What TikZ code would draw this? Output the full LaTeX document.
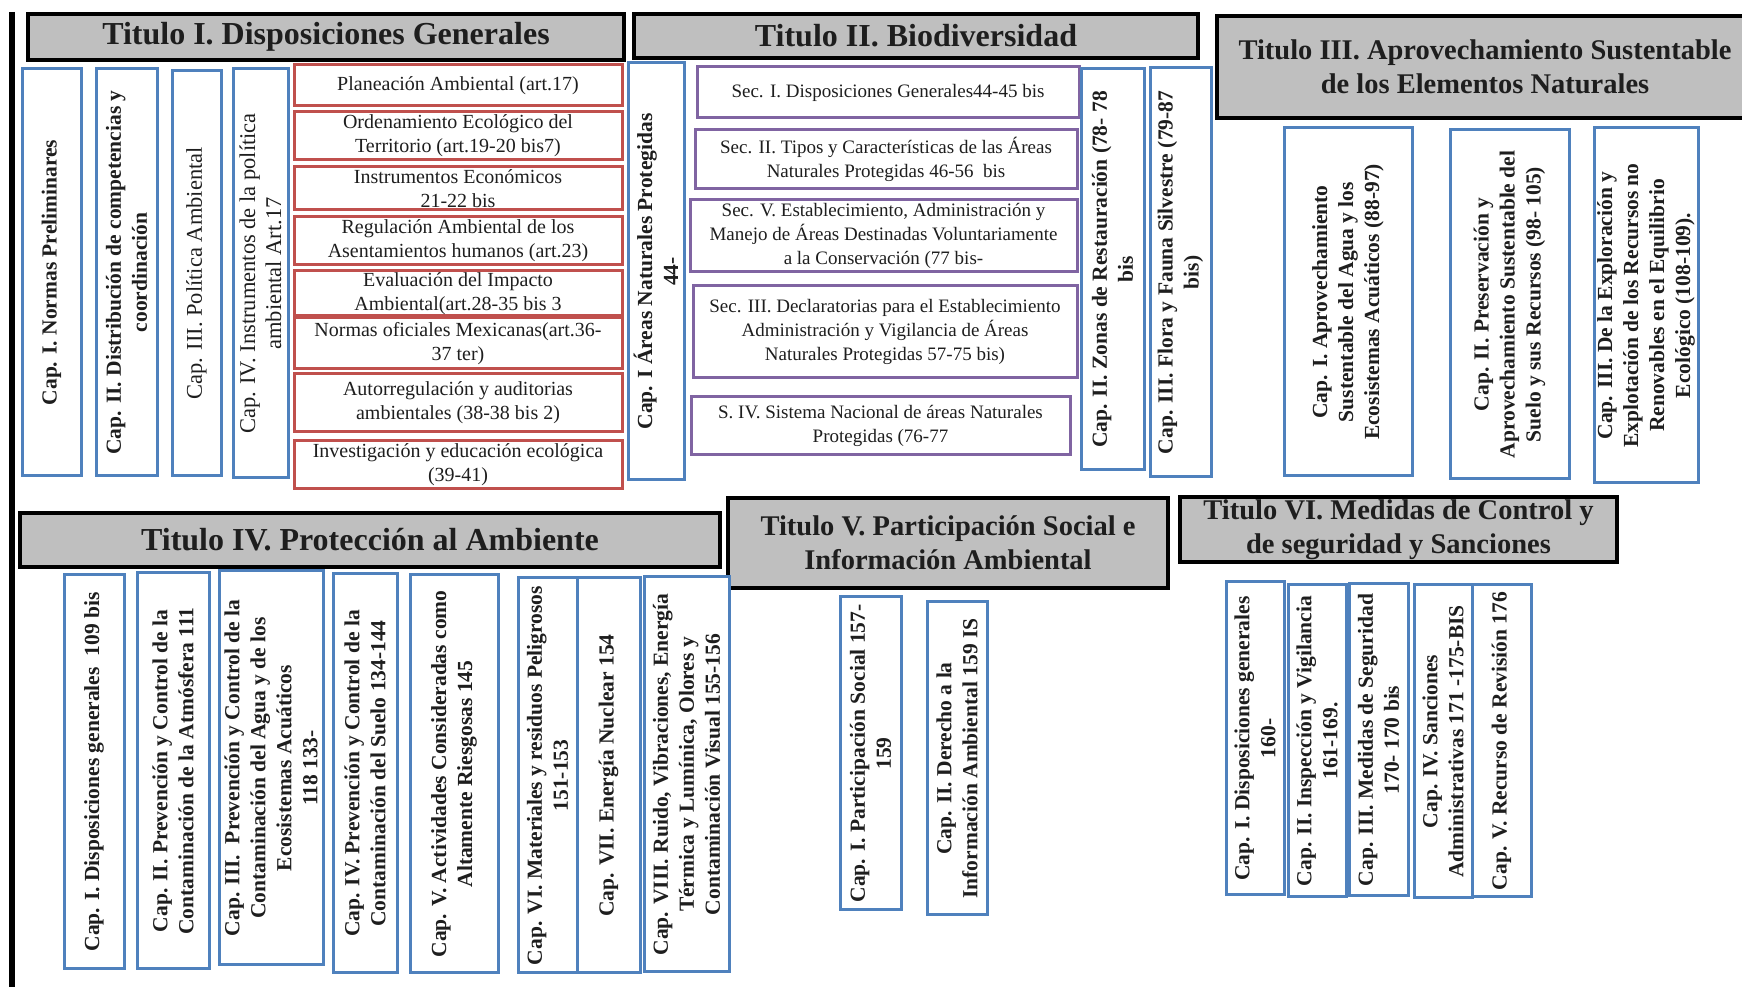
\documentclass[tikz,border=0pt]{standalone}
\usepackage{fontspec}
\setmainfont{Liberation Serif}
\definecolor{capblue}{HTML}{4F81BD}
\definecolor{redc}{HTML}{C0504D}
\definecolor{purc}{HTML}{8064A2}
\definecolor{hdrgray}{HTML}{BFBFBF}
\definecolor{txt}{HTML}{1E1E1E}
\newcommand{\BX}[8]{%
 \pgfmathsetmacro\cx{(#4+#6)/2}%
 \pgfmathsetmacro\cy{987-(#5+#7)/2}%
 \pgfmathsetmacro\bw{#6-#4}%
 \pgfmathsetmacro\bh{#7-#5}%
 \node[#2, minimum width=\bw pt, minimum height=\bh pt] (#1) at (\cx,\cy) {};
 \node[#3] (#1t) at (#1.center) {#8};}
\begin{document}
\begin{tikzpicture}[x=1pt,y=1pt,
 hdr/.style={draw=black, line width=3.5pt, fill=hdrgray, inner sep=0pt},
 bbox/.style={draw=capblue, line width=3pt, fill=white, inner sep=0pt},
 rbox/.style={draw=redc, line width=3pt, fill=white, inner sep=0pt},
 pbox/.style={draw=purc, line width=3pt, fill=white, inner sep=0pt},
 ht/.style={text=txt, align=center, inner sep=0pt, font=\fontsize{32pt}{38pt}\selectfont\bfseries},
 hts/.style={text=txt, align=center, inner sep=0pt, font=\fontsize{28.5pt}{34pt}\selectfont\bfseries},
 vtb/.style={text=txt, align=center, inner sep=0pt, rotate=90, font=\fontsize{21.5pt}{26pt}\selectfont\bfseries},
 vtr/.style={text=txt, align=center, inner sep=0pt, rotate=90, font=\fontsize{22.5pt}{26pt}\selectfont},
 rt/.style={text=txt, align=center, inner sep=0pt, font=\fontsize{20pt}{24pt}\selectfont},
 pt/.style={text=txt, align=center, inner sep=0pt, font=\fontsize{19pt}{24pt}\selectfont}
]
\useasboundingbox (0,0) rectangle (1742,987);
\fill[white] (0,0) rectangle (1742,987);
\coordinate (bartop) at (12,975);
\coordinate (barbot) at (12,-5);
\draw[line width=6pt, black] (bartop) -- (barbot);

% headers
\BX{h1}{hdr}{ht}{28}{14}{624}{60}{Titulo I. Disposiciones Generales}
\BX{h2}{hdr}{ht}{634}{14}{1198}{58}{Titulo II. Biodiversidad}
\BX{h3}{hdr}{hts}{1217}{16}{1753}{118}{Titulo III. Aprovechamiento Sustentable\\de los Elementos Naturales}
\BX{h4}{hdr}{ht}{20}{513}{720}{567}{Titulo IV. Protección al Ambiente}
\BX{h5}{hdr}{hts}{728}{498}{1168}{588}{Titulo V. Participación Social e\\Información Ambiental}
\BX{h6}{hdr}{hts}{1180}{497}{1617}{562}{Titulo VI. Medidas de Control y\\de seguridad y Sanciones}

% Titulo I
\BX{c11}{bbox}{vtb}{22}{69}{81}{476}{Cap. I. Normas Preliminares}
\BX{c12}{bbox}{vtb}{96}{69}{157}{476}{Cap. II. Distribución de competencias y\\coordinación}
\BX{c13}{bbox}{vtr}{172}{71}{221}{476}{Cap. III. Política Ambiental}
\BX{c14}{bbox}{vtr}{233}{69}{288}{478}{Cap. IV. Instrumentos de la política\\ambiental Art.17}
\BX{r1}{rbox}{rt}{294}{65}{622}{106}{Planeación Ambiental (art.17)}
\BX{r2}{rbox}{rt}{294}{112}{622}{160}{Ordenamiento Ecológico del\\Territorio (art.19-20 bis7)}
\BX{r3}{rbox}{rt}{294}{167}{622}{210}{Instrumentos Económicos\\21-22 bis}
\BX{r4}{rbox}{rt}{294}{217}{622}{265}{Regulación Ambiental de los\\Asentamientos humanos (art.23)}
\BX{r5}{rbox}{rt}{294}{271}{622}{316}{Evaluación del Impacto\\Ambiental(art.28-35 bis 3}
\BX{r6}{rbox}{rt}{294}{318}{622}{369}{Normas oficiales Mexicanas(art.36-\\37 ter)}
\BX{r7}{rbox}{rt}{294}{374}{622}{432}{Autorregulación y auditorias\\ambientales (38-38 bis 2)}
\BX{r8}{rbox}{rt}{294}{441}{622}{489}{Investigación y educación ecológica\\(39-41)}

% Titulo II
\BX{c21}{bbox}{vtb}{628}{63}{684}{480}{Cap. I Áreas Naturales Protegidas\\44-}
\BX{p1}{pbox}{pt}{697}{67}{1079}{118}{Sec. I. Disposiciones Generales44-45 bis}
\BX{p2}{pbox}{pt}{695}{130}{1077}{189}{Sec. II. Tipos y Características de las Áreas\\Naturales Protegidas 46-56\ \ bis}
\BX{p3}{pbox}{pt}{690}{200}{1077}{272}{Sec. V. Establecimiento, Administración y\\Manejo de Áreas Destinadas Voluntariamente\\a la Conservación (77 bis-}
\BX{p4}{pbox}{pt}{693}{286}{1077}{378}{Sec. III. Declaratorias para el Establecimiento\\Administración y Vigilancia de Áreas\\Naturales Protegidas 57-75 bis)}
\BX{p5}{pbox}{pt}{691}{397}{1070}{455}{S. IV. Sistema Nacional de áreas Naturales\\Protegidas (76-77}
\BX{c22}{bbox}{vtb}{1081}{69}{1144}{470}{Cap. II. Zonas de Restauración (78- 78\\bis}
\BX{c23}{bbox}{vtb}{1150}{68}{1211}{477}{Cap. III. Flora y Fauna Silvestre (79-87\\bis)}

% Titulo III
\BX{c31}{bbox}{vtb}{1284}{128}{1412}{476}{Cap. I. Aprovechamiento\\Sustentable del Agua y los\\Ecosistemas Acuáticos (88-97)}
\BX{c32}{bbox}{vtb}{1450}{130}{1569}{479}{Cap. II. Preservación y\\Aprovechamiento Sustentable del\\Suelo y sus Recursos (98- 105)}
\BX{c33}{bbox}{vtb}{1594}{128}{1698}{483}{Cap. III. De la Exploración y\\Explotación de los Recursos no\\Renovables en el Equilibrio\\Ecológico (108-109).}

% Titulo IV
\BX{c41}{bbox}{vtb}{64}{575}{124}{969}{Cap. I. Disposiciones generales\ \ 109 bis}
\BX{c42}{bbox}{vtb}{137}{573}{209}{969}{Cap. II. Prevención y Control de la\\Contaminación de la Atmósfera 111}
\BX{c43}{bbox}{vtb}{219}{571}{323}{965}{Cap. III.\ \ Prevención y Control de la\\Contaminación del Agua y de los\\Ecosistemas Acuáticos\\118 133-}
\BX{c44}{bbox}{vtb}{333}{574}{397}{973}{Cap. IV. Prevención y Control de la\\Contaminación del Suelo 134-144}
\BX{c45}{bbox}{vtb}{410}{575}{498}{973}{Cap. V. Actividades Consideradas como\\Altamente Riesgosas 145}
\BX{c46}{bbox}{vtb}{518}{578}{577}{973}{Cap. VI. Materiales y residuos Peligrosos\\151-153}
\BX{c47}{bbox}{vtb}{577}{578}{640}{973}{Cap. VII. Energía Nuclear 154}
\BX{c48}{bbox}{vtb}{644}{577}{729}{972}{Cap. VIII. Ruido, Vibraciones, Energía\\Térmica y Lumínica, Olores y\\Contaminación Visual 155-156}

% Titulo V
\BX{c51}{bbox}{vtb}{840}{597}{901}{910}{Cap. I. Participación Social 157-\\159}
\BX{c52}{bbox}{vtb}{927}{602}{987}{915}{Cap. II. Derecho a la\\Información Ambiental 159 IS}

% Titulo VI
\BX{c61}{bbox}{vtb}{1226}{582}{1284}{895}{Cap. I. Disposiciones generales\\160-}
\BX{c62}{bbox}{vtb}{1288}{585}{1346}{897}{Cap. II. Inspección y Vigilancia\\161-169.}
\BX{c63}{bbox}{vtb}{1349}{584}{1408}{896}{Cap. III. Medidas de Seguridad\\170- 170 bis}
\BX{c64}{bbox}{vtb}{1414}{585}{1472}{898}{Cap. IV. Sanciones\\Administrativas 171 -175-BIS}
\BX{c65}{bbox}{vtb}{1472}{585}{1531}{897}{Cap. V. Recurso de Revisión 176}
\end{tikzpicture}
\end{document}
